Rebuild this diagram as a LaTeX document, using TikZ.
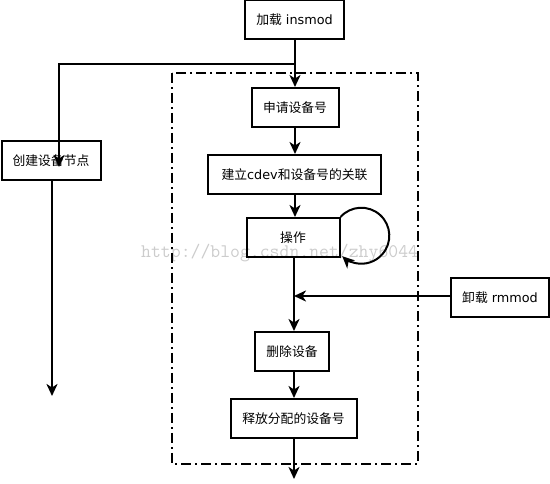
\documentclass[tikz,border=0pt]{standalone}
\usepackage{fontspec}
\setmainfont{DejaVu Sans}
\newfontfamily\cjk{Noto Sans CJK SC}
\usetikzlibrary{arrows.meta}
\begin{document}
\begin{tikzpicture}[x=1pt,y=-1pt,
  box/.style={draw, line width=2pt, minimum height=39pt, inner sep=0pt, font=\fontsize{12.8}{14}\selectfont},
  arr/.style={line width=2pt, -{Stealth[length=12pt,width=11pt,inset=3.5pt]}},
  frame/.style={line width=2pt, dash pattern=on 10pt off 4pt on 2pt off 4pt}]
\useasboundingbox (0,0) rectangle (550,484);
% watermark
\node[text=black!20, font=\ttfamily\fontsize{19.2}{20}\selectfont, inner sep=0pt, anchor=base west] (wm) at (141,258) {http://blog.csdn.net/zhy6044};
% frame
\draw[frame] (172,73) rectangle (418,464);
% boxes
\node[box, minimum width=99pt] (ins) at (294.5,20) {{\cjk 加载} insmod};
\node[box, minimum width=87pt] (req) at (295,107.5) {\cjk 申请设备号};
\node[box, minimum width=173pt] (cdev) at (294.5,174.5) {{\cjk 建立}cdev{\cjk 和设备号的关联}};
\node[box, minimum width=93pt] (op) at (293,237.5) {\cjk 操作};
\node[box, minimum width=98pt] (rm) at (500,297.5) {{\cjk 卸载} rmmod};
\node[box, minimum width=74pt] (del) at (292,351.5) {\cjk 删除设备};
\node[box, minimum width=126pt] (rel) at (293.5,418.5) {\cjk 释放分配的设备号};
\node[box, minimum width=99pt] (mk) at (51,160.5) {\cjk 创建设备节点};
% coordinates
\coordinate (br) at (295,64);
\coordinate (mkend) at (59,167);
\coordinate (join) at (294,296);
\coordinate (mkout) at (52,396);
\coordinate (relout) at (294,479);
% connectors
\draw[arr] (ins.south -| br) -- (req.north -| br);
\draw[arr] (br) -| (mkend);
\draw[arr] (req.south -| br) -- (cdev.north -| br);
\draw[arr] (cdev.south -| br) -- (op.north -| br);
\draw[arr] (op.south -| join) -- (del.north -| join);
\draw[arr] (rm.west |- join) -- (join);
\draw[arr] (del.south -| join) -- (rel.north -| join);
\draw[arr] (rel.south -| join) -- (relout);
\draw[arr] (mk.south -| mkout) -- (mkout);
\draw[arr] (op.north east) arc[start angle=222, end angle=493, radius=28];
\end{tikzpicture}
\end{document}
